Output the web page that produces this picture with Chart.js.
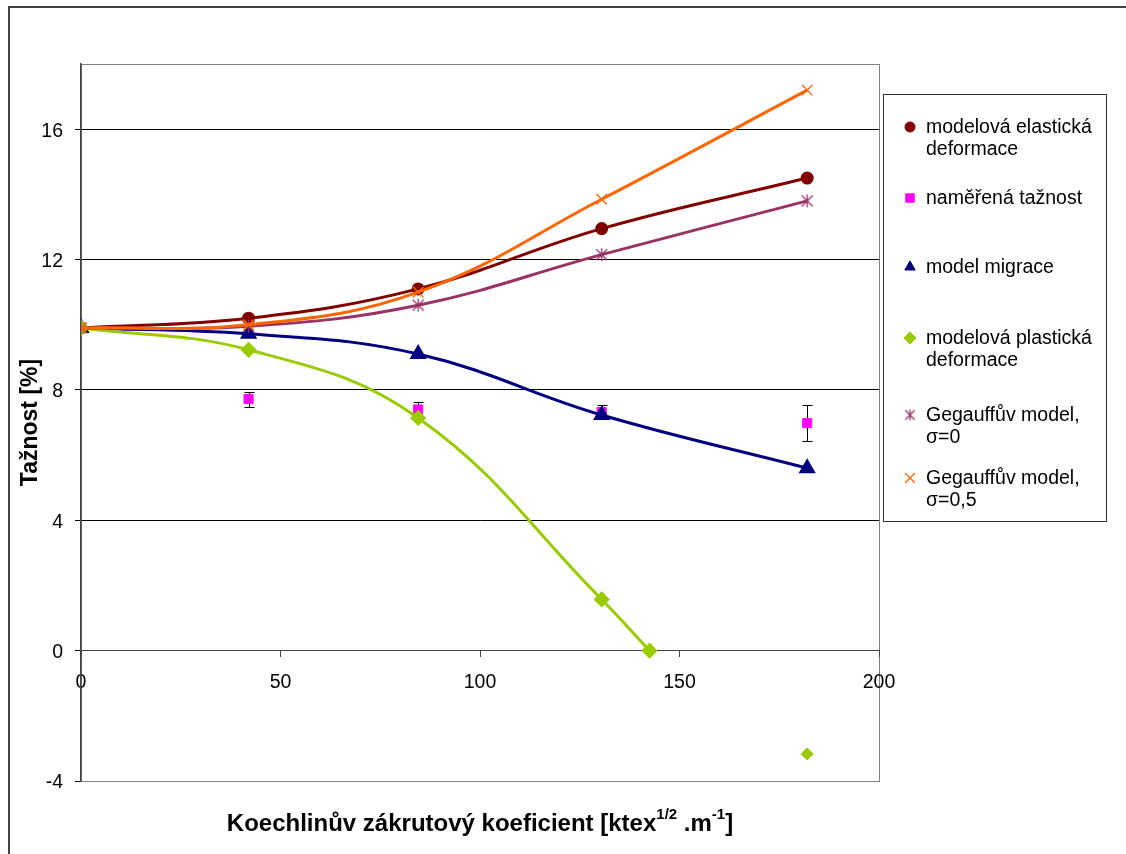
<!DOCTYPE html>
<html>
<head>
<meta charset="utf-8">
<script src="https://cdn.jsdelivr.net/npm/chart.js@4.4.0/dist/chart.umd.min.js"></script>
<style>
  html, body { margin: 0; padding: 0; background: #fff; }
  #wrap { position: relative; width: 1126px; height: 854px; }
</style>
</head>
<body>
<div id="wrap"><canvas id="taznost" width="1126" height="854"></canvas></div>
<script>
// Koechlin twist coefficient vs. elongation, model comparison
const twist = [0, 42, 84.5, 130.5, 182];
const elastic = [9.9, 10.2, 11.1, 12.95, 14.5];
const migration = [9.9, 9.72, 9.1, 7.23, 5.6];
const gegauff0 = [9.9, 9.95, 10.6, 12.15, 13.8];
const gegauff05 = [9.9, 10.0, 11.0, 13.85, 17.2];

const measuredX = [42, 84.5, 130.5, 182];
const measured = [7.72, 7.4, 7.32, 6.98];
const measuredErr = [0.23, 0.22, 0.22, 0.55];

const plasticX = [0, 42, 84.5, 130.5, 142.5, 182];
const plastic = [9.9, 9.23, 7.14, 1.57, 0, -3.17];

const xTicks = [0, 50, 100, 150, 200];
const yTicks = [-4, 0, 4, 8, 12, 16];

const names = [
  ['modelová elastická', 'deformace'],
  ['naměřená tažnost'],
  ['model migrace'],
  ['modelová plastická', 'deformace'],
  ['Gegauffův model,', 'σ=0'],
  ['Gegauffův model,', 'σ=0,5']
];

const FONT = "'Liberation Sans', Arial, sans-serif";

const pts = (xs, ys) => xs.map((x, i) => ({ x: x, y: ys[i] }));

// Excel-style star marker: an X with a vertical stroke
function starMark(size, color) {
  const c = document.createElement('canvas');
  c.width = c.height = size;
  const g = c.getContext('2d');
  const m = size / 2, r = size / 2 - 1;
  g.strokeStyle = color;
  g.lineWidth = 1.3;
  g.beginPath();
  g.moveTo(m, m - r); g.lineTo(m, m + r);
  g.moveTo(m - r * 0.85, m - r * 0.85); g.lineTo(m + r * 0.85, m + r * 0.85);
  g.moveTo(m + r * 0.85, m - r * 0.85); g.lineTo(m - r * 0.85, m + r * 0.85);
  g.stroke();
  return c;
}

const star = starMark(15, '#993366');
const starSmall = starMark(13, '#993366');

const errorBars = {
  id: 'errorBars',
  beforeDatasetsDraw(chart) {
    const { ctx, scales: { x, y } } = chart;
    ctx.save();
    ctx.strokeStyle = '#000';
    ctx.lineWidth = 1;
    measuredX.forEach((v, i) => {
      const px = Math.round(x.getPixelForValue(v)) + 0.5;
      const top = Math.round(y.getPixelForValue(measured[i] + measuredErr[i])) + 0.5;
      const bot = Math.round(y.getPixelForValue(measured[i] - measuredErr[i])) + 0.5;
      ctx.beginPath();
      ctx.moveTo(px, top); ctx.lineTo(px, bot);
      ctx.moveTo(px - 5, top); ctx.lineTo(px + 5, top);
      ctx.moveTo(px - 5, bot); ctx.lineTo(px + 5, bot);
      ctx.stroke();
    });
    ctx.restore();
  }
};

const frame = {
  id: 'frame',
  beforeDraw(chart) {
    const { ctx, chartArea: a } = chart;
    ctx.save();
    ctx.fillStyle = '#fff';
    ctx.fillRect(0, 0, chart.width, chart.height);
    ctx.strokeStyle = '#404040';
    ctx.lineWidth = 2;
    ctx.strokeRect(9, 7, 1300, 1000);
    ctx.strokeStyle = '#808080';
    ctx.lineWidth = 1;
    ctx.strokeRect(Math.round(a.left) + 0.5, Math.round(a.top) + 0.5,
      Math.round(a.right - a.left), Math.round(a.bottom - a.top));
    ctx.restore();
  }
};

const titles = {
  id: 'titles',
  afterDraw(chart) {
    const { ctx, chartArea: a } = chart;
    ctx.save();
    ctx.fillStyle = '#000';
    ctx.textBaseline = 'middle';

    // y axis title
    ctx.font = 'bold 23px ' + FONT;
    ctx.textAlign = 'center';
    ctx.translate(31, (a.top + a.bottom) / 2);
    ctx.rotate(-Math.PI / 2);
    ctx.fillText('Tažnost [%]', 0, 0);
    ctx.setTransform(1, 0, 0, 1, 0, 0);

    // x axis title with superscripts
    const parts = [
      ['Koechlinův zákrutový koeficient [ktex', false],
      ['1/2', true],
      [' .m', false],
      ['-1', true],
      [']', false]
    ];
    const big = 'bold 24px ' + FONT, sup = 'bold 15px ' + FONT;
    let total = 0;
    parts.forEach(p => { ctx.font = p[1] ? sup : big; total += ctx.measureText(p[0]).width; });
    let cx = (a.left + a.right) / 2 - total / 2;
    const cy = 824;
    ctx.textAlign = 'left';
    parts.forEach(p => {
      ctx.font = p[1] ? sup : big;
      ctx.fillText(p[0], cx, p[1] ? cy - 9 : cy);
      cx += ctx.measureText(p[0]).width;
    });
    ctx.restore();
  }
};

const legendBox = {
  id: 'legendBox',
  afterDraw(chart) {
    const { ctx } = chart;
    const rows = [127, 198, 267, 338, 415, 478];
    ctx.save();
    ctx.strokeStyle = '#333';
    ctx.lineWidth = 1;
    ctx.strokeRect(883.5, 94.5, 223, 427);
    ctx.textBaseline = 'middle';
    ctx.textAlign = 'left';
    chart.data.datasets.slice(0, 6).forEach((ds, i) => {
      const y = rows[i];
      const style = ds.legendStyle || ds.pointStyle;
      ctx.fillStyle = ds.pointBackgroundColor || '#000';
      ctx.strokeStyle = ds.pointBorderColor || '#000';
      ctx.lineWidth = ds.pointBorderWidth || 1;
      if (style instanceof HTMLCanvasElement) {
        ctx.drawImage(style, 910 - style.width / 2, y - style.height / 2);
      } else {
        Chart.helpers.drawPoint(ctx, {
          pointStyle: style,
          radius: ds.legendRadius,
          borderWidth: ds.pointBorderWidth || 1,
          rotation: 0
        }, 910, y);
      }
      ctx.font = '19.5px ' + FONT;
      ctx.fillStyle = '#000';
      names[i].forEach((line, k) => ctx.fillText(line, 926, y + 1 + k * 22));
    });
    ctx.restore();
  }
};

new Chart(document.getElementById('taznost'), {
  type: 'scatter',
  data: {
    datasets: [
      {
        data: pts(twist, elastic), showLine: true, tension: 0.4,
        borderColor: '#800000', borderWidth: 3,
        pointStyle: 'circle', pointRadius: 5, legendRadius: 5,
        pointBackgroundColor: '#800000', pointBorderColor: '#800000', order: 6
      },
      {
        data: pts(measuredX, measured), showLine: false,
        pointStyle: 'rect', pointRadius: 6.4, legendRadius: 6,
        pointBackgroundColor: '#FF00FF', pointBorderColor: '#FF00FF', order: 5
      },
      {
        data: pts(twist, migration), showLine: true, tension: 0.4,
        borderColor: '#000080', borderWidth: 3,
        pointStyle: 'triangle', pointRadius: 7, legendRadius: 6,
        pointBackgroundColor: '#000080', pointBorderColor: '#000080', order: 4
      },
      {
        data: pts(plasticX.slice(0, 5), plastic.slice(0, 5)), showLine: true, tension: 0.4,
        borderColor: '#99CC00', borderWidth: 3,
        pointStyle: 'rectRot', pointRadius: 6, legendRadius: 6,
        pointBackgroundColor: '#99CC00', pointBorderColor: '#99CC00', order: 3
      },
      {
        data: pts(twist, gegauff0), showLine: true, tension: 0.4,
        borderColor: '#993366', borderWidth: 3,
        pointStyle: star, legendStyle: starSmall, legendRadius: 6,
        pointBackgroundColor: '#993366', pointBorderColor: '#993366', order: 2
      },
      {
        data: pts(twist, gegauff05), showLine: true, tension: 0.4,
        borderColor: '#FF6600', borderWidth: 3,
        pointStyle: 'crossRot', pointRadius: 7.5, legendRadius: 7, pointBorderWidth: 1.3,
        pointBackgroundColor: '#FF6600', pointBorderColor: '#FF6600', order: 1
      },
      {
        // lone plastic point past the break
        data: pts(plasticX.slice(5), plastic.slice(5)), showLine: false,
        pointStyle: 'rectRot', pointRadius: 6,
        pointBackgroundColor: '#99CC00', pointBorderColor: '#99CC00', order: 3
      }
    ]
  },
  options: {
    responsive: false,
    animation: false,
    devicePixelRatio: 1,
    layout: { padding: { left: 0, top: 64, right: 247, bottom: 73 } },
    plugins: { legend: { display: false }, tooltip: { enabled: false } },
    scales: {
      x: {
        type: 'linear', min: 0, max: 200,
        position: { y: 0 },
        afterBuildTicks: s => { s.ticks = xTicks.map(v => ({ value: v })); },
        afterFit: s => { s.paddingLeft = 0; s.paddingRight = 0; },
        grid: { drawOnChartArea: false, drawTicks: true, tickLength: 6, color: '#444' },
        border: { color: '#444', width: 1 },
        ticks: { color: '#000', font: { family: FONT, size: 19.5 }, padding: 14, maxRotation: 0 }
      },
      y: {
        type: 'linear', min: -4, max: 18,
        afterBuildTicks: s => { s.ticks = yTicks.map(v => ({ value: v })); },
        afterFit: s => { s.width = 81; s.paddingTop = 0; s.paddingBottom = 0; },
        grid: {
          color: c => (c.tick && c.tick.value === -4) ? '#808080' : '#000',
          tickColor: '#000', tickLength: 6
        },
        border: { color: '#444', width: 1.5 },
        ticks: { color: '#000', font: { family: FONT, size: 19.5 }, padding: 12, labelOffset: 2 }
      }
    }
  },
  plugins: [frame, errorBars, titles, legendBox]
});
</script>
</body>
</html>
